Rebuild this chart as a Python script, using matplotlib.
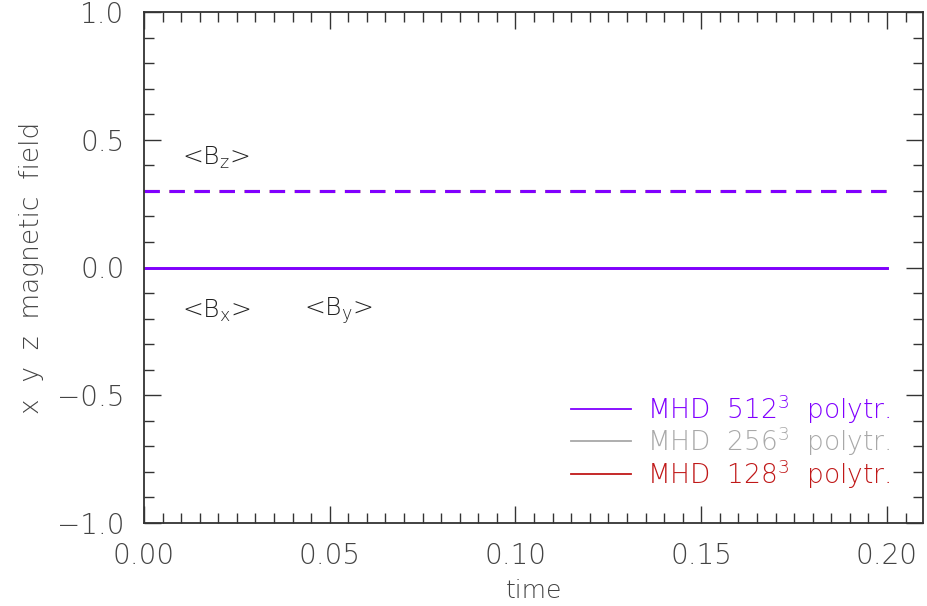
import matplotlib
matplotlib.use('Agg')
import matplotlib.pyplot as plt
import numpy as np
from matplotlib.ticker import MultipleLocator

# time axis and mean field components (constant in time)
time = [0.0, 0.05, 0.10, 0.15, 0.20]
runs = ['MHD  512$^3$  polytr.', 'MHD  256$^3$  polytr.', 'MHD  128$^3$  polytr.']
colors = ['#8000ff', '#a8a8a8', '#c01818']
bx = [0.0, 0.0, 0.0, 0.0, 0.0]
by = [0.0, 0.0, 0.0, 0.0, 0.0]
bz = [0.3, 0.3, 0.3, 0.3, 0.3]

plt.rcParams['font.weight'] = 'light'
plt.rcParams['axes.labelweight'] = 'light'

fig = plt.figure(figsize=(9.27, 6.06), dpi=100)
ax = fig.add_axes([144 / 927, 1 - 523 / 606, (923 - 144) / 927, (523 - 12) / 606])

# draw lowest resolution first so 512^3 ends on top
for i in [2, 1, 0]:
    c = colors[i]
    ax.plot(time, bx, color=c, lw=1.8)
    ax.plot(time, by, color=c, lw=1.8)
    ax.plot(time, bz, color=c, lw=2.2, ls=(0, (5, 3.2)))

ax.set_xlim(0, 0.2097)
ax.set_ylim(-1.0, 1.0)
ax.xaxis.set_major_locator(MultipleLocator(0.05))
ax.xaxis.set_minor_locator(MultipleLocator(0.005))
ax.yaxis.set_major_locator(MultipleLocator(0.5))
ax.yaxis.set_minor_locator(MultipleLocator(0.1))
ax.xaxis.set_major_formatter(plt.FuncFormatter(lambda v, p: f'{v:.2f}'))
ax.yaxis.set_major_formatter(plt.FuncFormatter(lambda v, p: f'{v:.1f}'.replace('-', '\u2212')))

ax.tick_params(which='both', direction='in', top=True, right=True,
               color='#333333', width=1.0, labelsize=20, labelcolor='#444444')
ax.tick_params(which='major', length=12, pad=14)
ax.tick_params(which='minor', length=7)
for s in ax.spines.values():
    s.set_color('#333333')
    s.set_linewidth(1.3)

ax.set_xlabel('time', fontsize=18, color='#444444', labelpad=6)
ax.set_ylabel('x  y  z  magnetic  field', fontsize=19, color='#444444')
ax.yaxis.set_label_coords(-0.128, 0.5)

ax.text(0.0103, 0.43, r'<B$_\mathregular{z}$>', fontsize=18, color='#222222', va='center')
ax.text(0.0103, -0.17, r'<B$_\mathregular{x}$>', fontsize=18, color='#222222', va='center')
ax.text(0.043, -0.17, r'<B$_\mathregular{y}$>', fontsize=18, color='#222222', va='center')

# legend drawn by hand in data coords
leg_y = [-0.555, -0.68, -0.81]
for i in range(3):
    ax.plot([0.115, 0.1312], [leg_y[i], leg_y[i]], color=colors[i], lw=1.3)
    ax.text(0.1355, leg_y[i], runs[i], fontsize=19, color=colors[i], va='center')

plt.savefig('out.png', dpi=100)
